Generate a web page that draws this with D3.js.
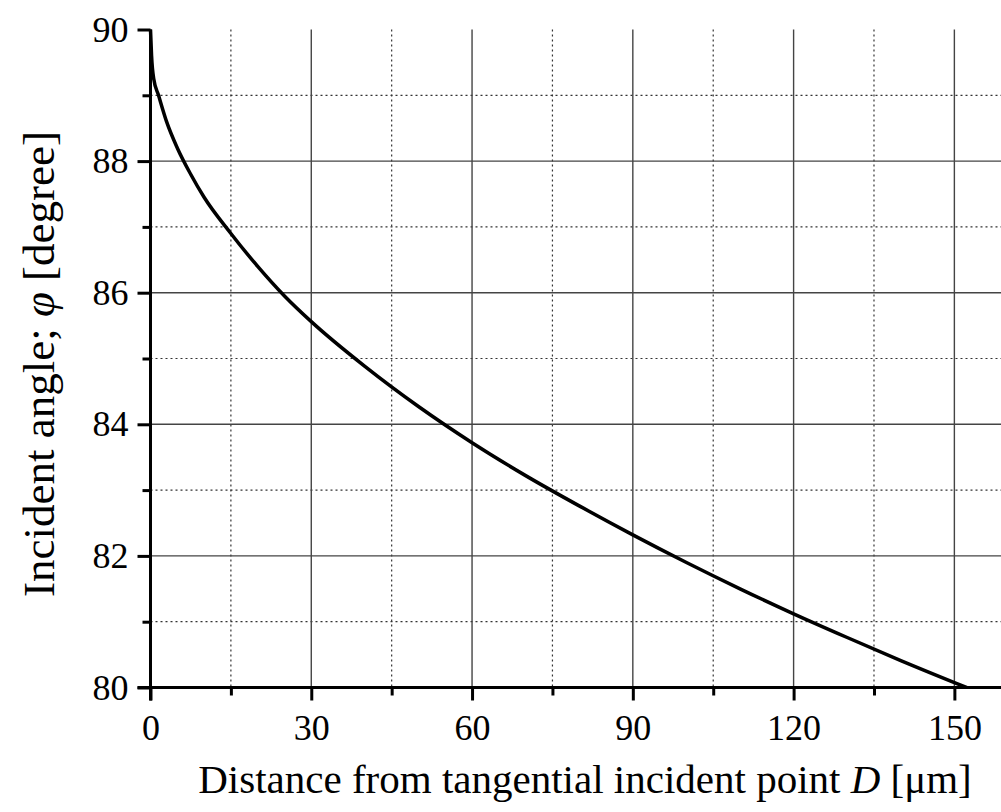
<!DOCTYPE html>
<html>
<head>
<meta charset="utf-8">
<script src="https://cdn.jsdelivr.net/npm/d3@7"></script>
<style>
  body { margin: 0; background: #fff; }
  svg { display: block; }
  text { font-family: "Liberation Serif", "Times New Roman", serif; fill: #000; }
</style>
</head>
<body>
<svg width="1001" height="812"></svg>
<script>
// values: distance D [um] vs incident angle phi [deg]
const distance = [0, 0.2, 0.6, 1.5, 3, 5, 7.5, 10, 15, 20, 25, 30, 40, 50, 60, 70, 80, 90, 100, 110, 120, 130, 140, 152.3];
const angle = [90, 89.6, 89.25, 89.0, 88.6, 88.2, 87.8, 87.45, 86.9, 86.4, 85.95, 85.56, 84.88, 84.27, 83.72, 83.22, 82.76, 82.32, 81.9, 81.5, 81.12, 80.76, 80.41, 80.0];

const xMajor = [0, 30, 60, 90, 120, 150];
const xMinor = [15, 45, 75, 105, 135];
const yMajor = [80, 82, 84, 86, 88, 90];
const yMinor = [81, 83, 85, 87, 89];

const plotLeft = 150.5, plotTop = 29.5, plotRight = 1001, plotBottom = 687.5;

const x = d3.scaleLinear().domain([0, 158.7]).range([plotLeft, plotRight]);
const y = d3.scaleLinear().domain([80, 90]).range([plotBottom, plotTop]);

const svg = d3.select("svg");

// grid
const grid = svg.append("g");
grid.selectAll(".vmin")
  .data(xMinor)
  .join("line")
  .attr("x1", d => x(d)).attr("x2", d => x(d))
  .attr("y1", plotTop).attr("y2", plotBottom)
  .attr("stroke", "#333").attr("stroke-width", 1.2)
  .attr("stroke-dasharray", "2,3");
grid.selectAll(".hmin")
  .data(yMinor)
  .join("line")
  .attr("x1", plotLeft).attr("x2", plotRight)
  .attr("y1", d => y(d)).attr("y2", d => y(d))
  .attr("stroke", "#333").attr("stroke-width", 1.2)
  .attr("stroke-dasharray", "2,3");
grid.selectAll(".vmaj")
  .data(xMajor.slice(1))
  .join("line")
  .attr("x1", d => x(d)).attr("x2", d => x(d))
  .attr("y1", plotTop).attr("y2", plotBottom)
  .attr("stroke", "#444").attr("stroke-width", 1.4);
grid.selectAll(".hmaj")
  .data(yMajor.slice(1, -1))
  .join("line")
  .attr("x1", plotLeft).attr("x2", plotRight)
  .attr("y1", d => y(d)).attr("y2", d => y(d))
  .attr("stroke", "#444").attr("stroke-width", 1.4);

// curve
const pts = distance.map((d, i) => [d, angle[i]]);
svg.append("path")
  .datum(pts)
  .attr("fill", "none")
  .attr("stroke", "#000")
  .attr("stroke-width", 3.5)
  .attr("d", d3.line().x(d => x(d[0])).y(d => y(d[1])).curve(d3.curveMonotoneX));

// axes
const xAxis = svg.append("g").attr("transform", `translate(0,${plotBottom})`);
xAxis.append("g")
  .call(d3.axisBottom(x).tickValues(xMinor).tickSize(8).tickFormat(""));
xAxis.append("g")
  .call(d3.axisBottom(x).tickValues(xMajor).tickSize(13).tickPadding(14).tickFormat(d3.format("d")));

const yAxis = svg.append("g").attr("transform", `translate(${plotLeft},0)`);
yAxis.append("g")
  .call(d3.axisLeft(y).tickValues(yMinor).tickSize(8).tickFormat(""));
yAxis.append("g")
  .call(d3.axisLeft(y).tickValues(yMajor).tickSize(13).tickPadding(9).tickFormat(d3.format("d")));

svg.selectAll(".domain").remove();
svg.selectAll(".tick line").attr("stroke", "#000").attr("stroke-width", 3);
svg.selectAll(".tick text").style("font-size", "36px").style("font-family", "Liberation Serif");

// axis lines
svg.append("line")
  .attr("x1", plotLeft - 13).attr("x2", plotRight)
  .attr("y1", plotBottom).attr("y2", plotBottom)
  .attr("stroke", "#000").attr("stroke-width", 3);
svg.append("line")
  .attr("x1", plotLeft).attr("x2", plotLeft)
  .attr("y1", plotTop).attr("y2", plotBottom + 13)
  .attr("stroke", "#000").attr("stroke-width", 3);

// titles
const xt = svg.append("text")
  .attr("x", 585)
  .attr("y", 793)
  .attr("text-anchor", "middle")
  .style("font-size", "41px");
xt.append("tspan").text("Distance from tangential incident point ");
xt.append("tspan").style("font-style", "italic").text("D");
xt.append("tspan").text(" [μm]");

const yt = svg.append("text")
  .attr("transform", "translate(54,364) rotate(-90)")
  .attr("text-anchor", "middle")
  .style("font-size", "45px");
yt.append("tspan").text("Incident angle; ");
yt.append("tspan").style("font-style", "italic").text("φ");
yt.append("tspan").text(" [degree]");
</script>
</body>
</html>
